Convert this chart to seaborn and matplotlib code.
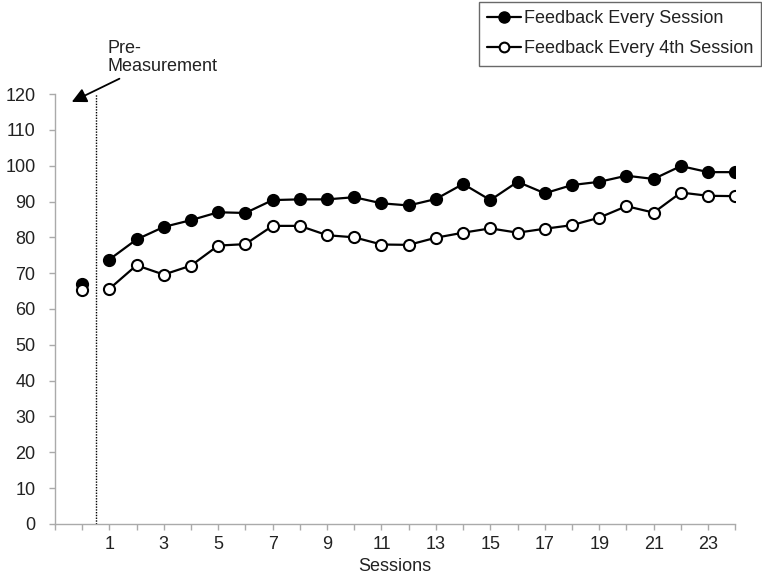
import numpy as np
import pandas as pd
import seaborn as sns
import matplotlib.pyplot as plt
from matplotlib.lines import Line2D

sns.set_style("white")
plt.rcParams['font.family'] = ['Liberation Sans', 'DejaVu Sans']

sessions = list(range(1, 25))
every_session = [73.8, 79.4, 82.9, 84.8, 87.0, 86.8, 90.4, 90.6, 90.6, 91.2, 89.5, 88.9,
                 90.7, 94.9, 90.4, 95.5, 92.3, 94.6, 95.5, 97.2, 96.3, 99.9, 98.2, 98.2]
every_4th = [65.6, 72.2, 69.6, 72.1, 77.7, 78.1, 83.2, 83.2, 80.6, 80.0, 78.0, 77.9,
             79.9, 81.3, 82.5, 81.3, 82.4, 83.4, 85.5, 88.7, 86.9, 92.5, 91.6, 91.5]
pre_every = 67.0
pre_4th = 65.4
label_every = "Feedback Every Session"
label_4th = "Feedback Every 4th Session"

df = pd.DataFrame({'session': sessions, 'every': every_session, 'fourth': every_4th})
pre = pd.DataFrame({'session': [0, 0], 'value': [pre_every, pre_4th],
                    'group': [label_every, label_4th]})

fs = 13

fig = plt.figure(figsize=(7.62, 5.77), dpi=100)
ax = fig.add_axes([0.072, 0.092, 0.893, 0.745])

line_kw = dict(color='black', linewidth=1.6, marker='o', markersize=8,
               markeredgecolor='black', markeredgewidth=1.5)
sns.lineplot(data=df, x='session', y='every', ax=ax, markerfacecolor='black', **line_kw)
sns.lineplot(data=df, x='session', y='fourth', ax=ax, markerfacecolor='white', **line_kw)

# pre-measurement points (not connected)
ax.plot(pre['session'][:1], pre['value'][:1], linestyle='none', marker='o', markersize=8,
        markerfacecolor='black', markeredgecolor='black', markeredgewidth=1.5)
ax.plot(pre['session'][1:], pre['value'][1:], linestyle='none', marker='o', markersize=8,
        markerfacecolor='white', markeredgecolor='black', markeredgewidth=1.5)

# dotted divider
ax.axvline(0.5, color='black', linestyle=(0, (1, 1)), linewidth=1)

ax.set_xlim(-1, 24)
ax.set_ylim(0, 120)
ax.set_yticks(np.arange(0, 121, 10))
ax.set_xticks(np.arange(-1, 25))
ax.set_xticklabels([str(t) if (t > 0 and t % 2 == 1) else '' for t in range(-1, 25)])
ax.set_xlabel("Sessions", fontsize=fs, color='#222222', labelpad=3)
ax.set_ylabel("")

for s in ['top', 'right']:
    ax.spines[s].set_visible(False)
for s in ['left', 'bottom']:
    ax.spines[s].set_color('#aaaaaa')
    ax.spines[s].set_linewidth(1)
ax.tick_params(axis='both', direction='out', length=4, width=1, color='#aaaaaa',
               labelsize=fs, labelcolor='#222222', bottom=True, left=True)
ax.tick_params(axis='y', pad=10)
ax.tick_params(axis='x', pad=5)

ax.annotate("Pre-\nMeasurement", xy=(-0.38, 117.8), xytext=(0.73, 128.7),
            fontsize=fs, color='#222222', ha='left', va='bottom',
            annotation_clip=False, linespacing=1.1,
            arrowprops=dict(arrowstyle='-|>', color='black', lw=1.3,
                            mutation_scale=22, shrinkA=0, shrinkB=0))
# move the text so that the arrow starts at its lower-left corner
ax.texts[-1].set_position((0.93, 125.2))

handles = [Line2D([], [], color='black', lw=1.6, marker='o', markersize=8,
                  markerfacecolor='black', markeredgecolor='black'),
           Line2D([], [], color='black', lw=1.6, marker='o', markersize=7,
                  markerfacecolor='white', markeredgecolor='black', markeredgewidth=1.5)]
leg = fig.legend(handles, [label_every, label_4th], loc='upper right',
                 bbox_to_anchor=(0.999, 0.997), fontsize=fs, frameon=True,
                 fancybox=False, edgecolor='#444444', handlelength=1.9,
                 handletextpad=0.15, borderpad=0.45, labelspacing=0.75, borderaxespad=0)
leg.get_frame().set_linewidth(1)
for t in leg.get_texts():
    t.set_color('#222222')

plt.savefig("out.png", dpi=100)
